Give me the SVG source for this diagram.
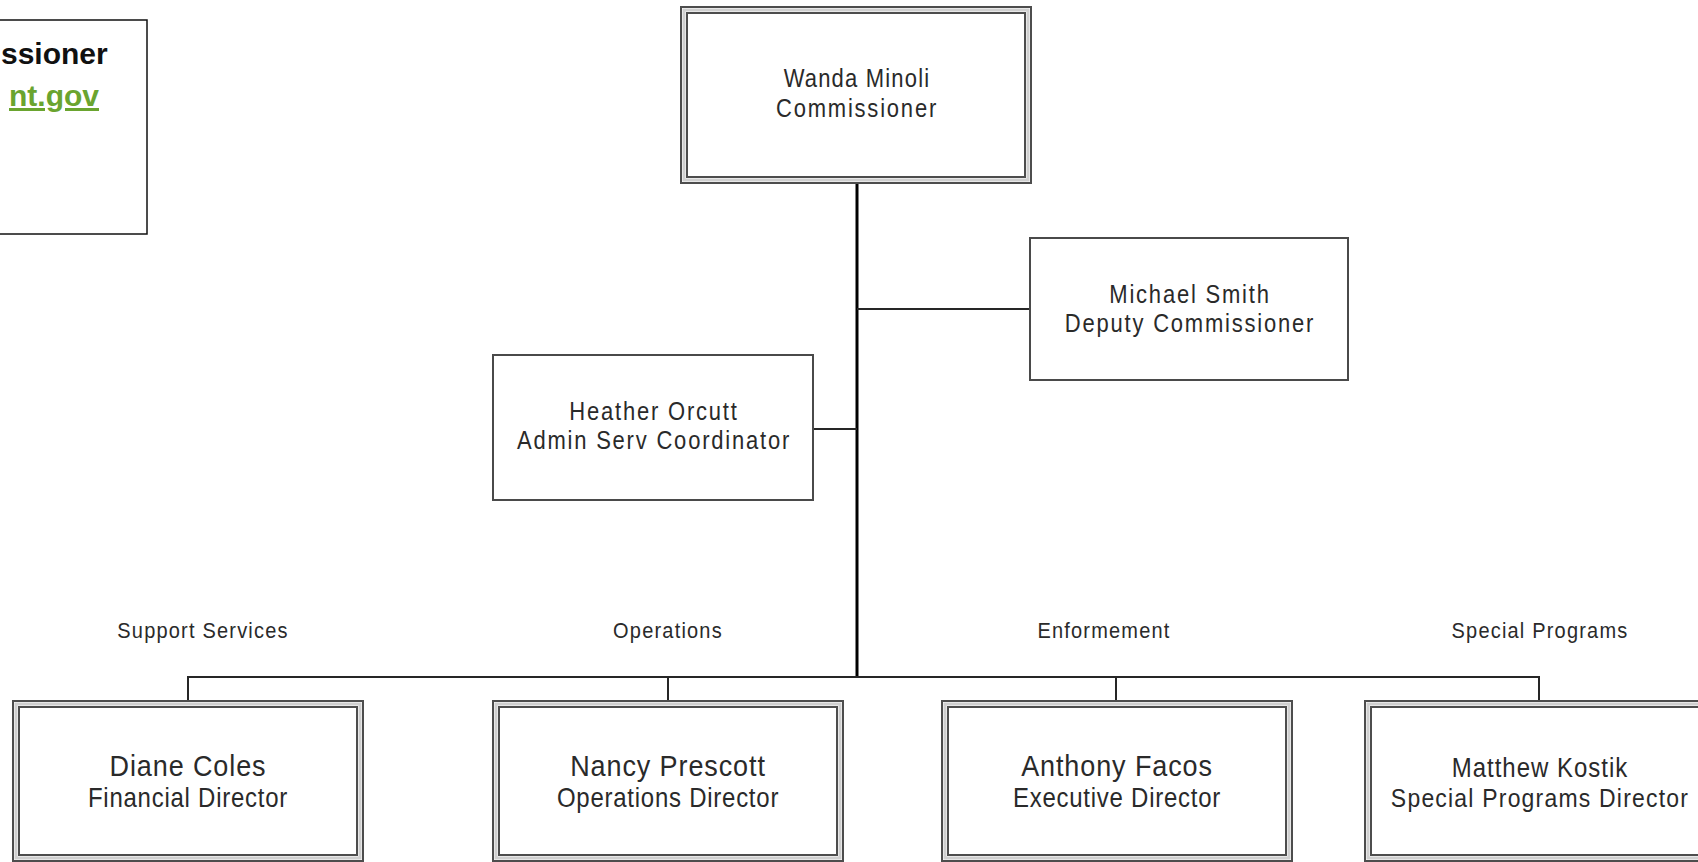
<svg xmlns="http://www.w3.org/2000/svg" width="1698" height="862" viewBox="0 0 1698 862">
<style>
.bg{fill:#ffffff}
.ob{fill:#ffffff;stroke:#4d4d4d;stroke-width:2}
.mb{fill:none;stroke:#cfcfcf;stroke-width:3}
.ib{fill:none;stroke:#4d4d4d;stroke-width:2}
.sb{fill:#ffffff;stroke:#4a4a4a;stroke-width:2}
.t{font-family:"Liberation Sans",Arial,sans-serif;fill:#2a2a2a;text-anchor:middle}
.top{font-size:22px;letter-spacing:1.8px}
.nm{font-size:27px;letter-spacing:0.9px}
.tt{font-size:24px;letter-spacing:0.75px}
.lb{font-size:20px;letter-spacing:1.2px}
.ln{stroke:#262626;stroke-width:2;fill:none}
.trunk{stroke:#000;stroke-width:3;fill:none}
.hd{font-family:"Liberation Sans",Arial,sans-serif;font-weight:bold;font-size:30px;text-anchor:start}
</style>
<rect class="bg" x="0" y="0" width="1698" height="862"/>

<g id="info-box">
<rect x="-2" y="20" width="149" height="214" fill="#fff" stroke="#111" stroke-width="1.5"/>
<text class="hd" x="1" y="64" fill="#111">ssioner</text>
<text class="hd" x="9" y="106" fill="#6aa42f" text-decoration="underline">nt.gov</text>
</g>

<g id="connectors">
<line class="trunk" x1="857" y1="182" x2="857" y2="678"/>
<line class="ln" x1="857" y1="309" x2="1030" y2="309"/>
<line class="ln" x1="813" y1="429" x2="857" y2="429"/>
<polyline class="ln" points="188,702 188,677 1539,677 1539,702"/>
<line class="ln" x1="668" y1="677" x2="668" y2="702"/>
<line class="ln" x1="1116" y1="677" x2="1116" y2="702"/>
</g>

<g id="wanda">
<rect class="ob" x="681" y="7" width="350" height="176"/>
<rect class="mb" x="684" y="10" width="344" height="170"/>
<rect class="ib" x="687" y="13" width="338" height="164"/>
<text class="t top" style="letter-spacing:1.2px" transform="translate(857,87) scale(1,1.15)">Wanda Minoli</text>
<text class="t top" transform="translate(857,117) scale(1,1.15)">Commissioner</text>
</g>

<g id="michael">
<rect class="sb" x="1030" y="238" width="318" height="142"/>
<text class="t top" transform="translate(1190,303) scale(1,1.15)">Michael Smith</text>
<text class="t top" transform="translate(1190,332) scale(1,1.15)">Deputy Commissioner</text>
</g>

<g id="heather">
<rect class="sb" x="493" y="355" width="320" height="145"/>
<text class="t top" transform="translate(654,420) scale(1,1.15)">Heather Orcutt</text>
<text class="t top" transform="translate(654,449) scale(1,1.15)">Admin Serv Coordinator</text>
</g>

<g id="labels">
<text class="t lb" transform="translate(203,638) scale(1,1.12)">Support Services</text>
<text class="t lb" transform="translate(668,638) scale(1,1.12)">Operations</text>
<text class="t lb" transform="translate(1104,638) scale(1,1.12)">Enformement</text>
<text class="t lb" transform="translate(1540,638) scale(1,1.12)">Special Programs</text>
</g>

<g id="diane">
<rect class="ob" x="13" y="701" width="350" height="160"/>
<rect class="mb" x="16" y="704" width="344" height="154"/>
<rect class="ib" x="19" y="707" width="338" height="148"/>
<text class="t nm" transform="translate(188,776) scale(1,1.1)">Diane Coles</text>
<text class="t tt" transform="translate(188,807) scale(1,1.12)">Financial Director</text>
</g>

<g id="nancy">
<rect class="ob" x="493" y="701" width="350" height="160"/>
<rect class="mb" x="496" y="704" width="344" height="154"/>
<rect class="ib" x="499" y="707" width="338" height="148"/>
<text class="t nm" transform="translate(668,776) scale(1,1.1)">Nancy Prescott</text>
<text class="t tt" transform="translate(668,807) scale(1,1.12)">Operations Director</text>
</g>

<g id="anthony">
<rect class="ob" x="942" y="701" width="350" height="160"/>
<rect class="mb" x="945" y="704" width="344" height="154"/>
<rect class="ib" x="948" y="707" width="338" height="148"/>
<text class="t nm" transform="translate(1117,776) scale(1,1.1)">Anthony Facos</text>
<text class="t tt" transform="translate(1117,807) scale(1,1.12)">Executive Director</text>
</g>

<g id="matthew">
<rect class="ob" x="1365" y="701" width="350" height="160"/>
<rect class="mb" x="1368" y="704" width="344" height="154"/>
<rect class="ib" x="1371" y="707" width="338" height="148"/>
<text class="t top" style="font-size:24px;letter-spacing:1px" transform="translate(1540,777) scale(1,1.12)">Matthew Kostik</text>
<text class="t tt" style="font-size:23px;letter-spacing:1.2px" transform="translate(1540,807) scale(1,1.12)">Special Programs Director</text>
</g>
</svg>
